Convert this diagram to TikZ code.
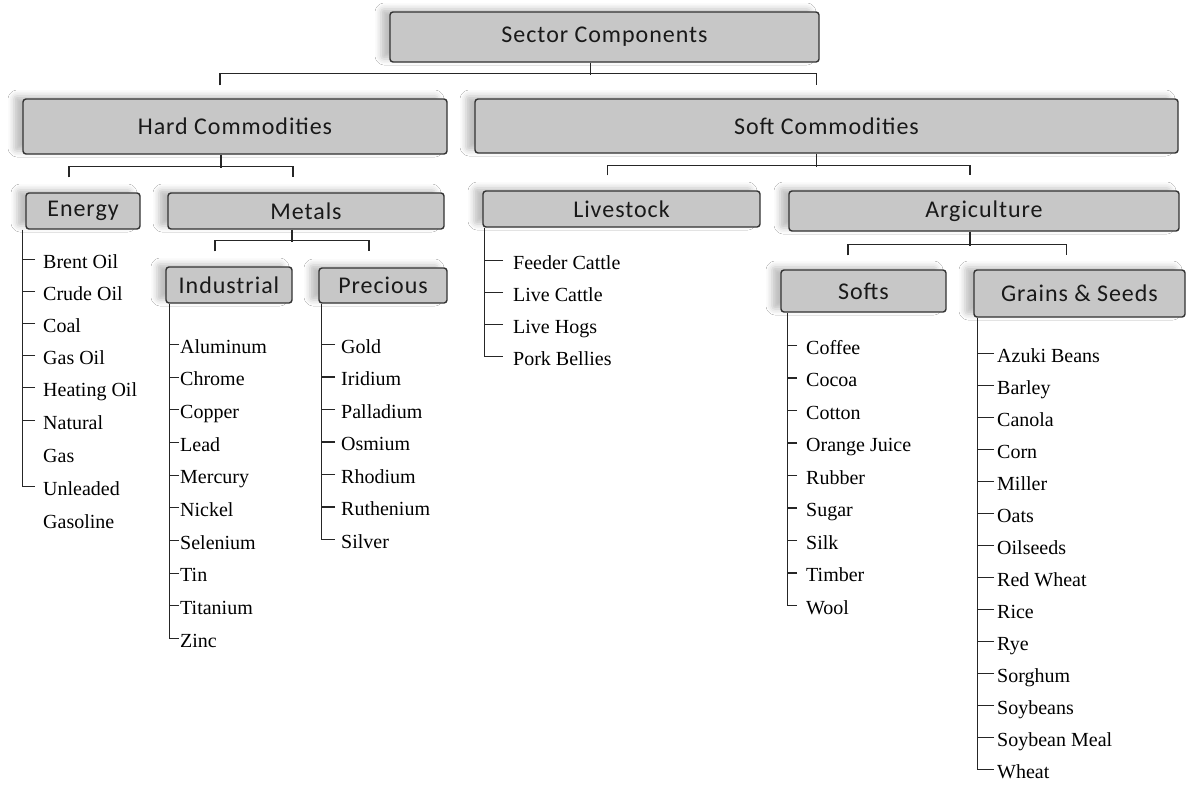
\documentclass[tikz,border=0pt]{standalone}
\usepackage{fontspec}
\setmainfont{Liberation Serif}
\newfontfamily\boxfont[LetterSpace=4]{Carlito}
\usetikzlibrary{positioning,calc,shadows.blur}
\tikzstyle{box}=[draw=black!80,fill=black!22,rounded corners=3pt,line width=1.4pt,inner sep=0pt,
  font=\boxfont\fontsize{24}{28}\selectfont,text=black!90,
  blur shadow={shadow xshift=-9pt,shadow yshift=3pt,shadow blur radius=6pt,shadow opacity=25}]
\tikzstyle{leaf}=[anchor=base west,yshift=-7pt,inner sep=0pt,align=left,font=\fontsize{20}{33}\selectfont]
\tikzstyle{link}=[line width=1.5pt,black!85]
\tikzstyle{list}=[line width=1.2pt,black!85]

\begin{document}
\begin{tikzpicture}[x=1pt,y=1pt]
\path[use as bounding box,fill=white] (0,0) rectangle (1186,-785);
% root
\node [box,minimum width=429pt,minimum height=50pt] (sec) at (604.5,-37) {Sector Components};
% hard side
\node [box,minimum width=424pt,minimum height=55pt] (hard) at (235,-126.5) {Hard Commodities};
\node [box,minimum width=114pt,minimum height=36pt] (energy) at (83,-211) {Energy};
\node [box,minimum width=276pt,minimum height=36pt] (metals) at (306,-211) {Metals};
\node [box,minimum width=126pt,minimum height=36pt] (ind) at (229,-285) {Industrial};
\node [box,minimum width=128pt,minimum height=35pt] (prec) at (383,-285.5) {Precious};
% soft side
\node [box,minimum width=703pt,minimum height=54pt] (soft) at (826.5,-126) {Soft Commodities};
\node [box,minimum width=277pt,minimum height=36pt] (live) at (621.5,-209) {Livestock};
\node [box,minimum width=390pt,minimum height=40pt] (agri) at (984,-211) {Argiculture};
\node [box,minimum width=165pt,minimum height=42pt] (softs) at (863.5,-291) {Softs};
\node [box,minimum width=211pt,minimum height=47pt] (grains) at (1079.5,-293.5) {Grains \& Seeds};

% brackets
\draw [link] ([xshift=-14pt]sec.south) -- ++(0,-12);
\draw [link] ($(hard.north)+(-15,13)$) |- ($(soft.north)+(-10,25)$) -- ++(0,-12);
\draw [link] ([xshift=-14pt]hard.south) -- ++(0,-13);
\draw [link] ($(energy.north)+(-14,15)$) |- ($(metals.north)+(-13,26)$) -- ++(0,-11);
\draw [link] ([xshift=-14pt]metals.south) -- ++(0,-12);
\draw [link] ($(ind.north)+(-14,15)$) |- ($(prec.north)+(-14,27)$) -- ++(0,-11);
\draw [link] ([xshift=-10pt]soft.south) -- ++(0,-13);
\draw [link] ($(live.north)+(-14,15)$) |- ($(agri.north)+(-14,25)$) -- ++(0,-10);
\draw [link] ([xshift=-14pt]agri.south) -- ++(0,-14);
\draw [link] ($(softs.north)+(-15.5,14)$) |- ($(grains.north)+(-13,25)$) -- ++(0,-11);

% energy
\node [leaf] (e1) at (43,-261) {Brent Oil};
\node [leaf] (e2) at (43,-293) {Crude Oil};
\node [leaf] (e3) at (43,-325) {Coal};
\node [leaf] (e4) at (43,-357) {Gas Oil};
\node [leaf] (e5) at (43,-389) {Heating Oil};
\node [leaf] (e6) at (43,-455) {Natural\\Gas};
\node [leaf] (e7) at (43,-521) {Unleaded\\Gasoline};
\draw [list] ([xshift=-3pt]energy.south west) |- ([xshift=-8pt,yshift=41.5pt]e7.base west);
\draw [list] ([xshift=-8pt,yshift=8.5pt]e1.base west) -- ++(-12,0)
  ([xshift=-8pt,yshift=8.5pt]e2.base west) -- ++(-12,0)
  ([xshift=-8pt,yshift=8.5pt]e3.base west) -- ++(-12,0)
  ([xshift=-8pt,yshift=8.5pt]e4.base west) -- ++(-12,0)
  ([xshift=-8pt,yshift=8.5pt]e5.base west) -- ++(-12,0)
  ([xshift=-8pt,yshift=41.5pt]e6.base west) -- ++(-12,0);

% industrial
\node [leaf] (i1) at (180,-346) {Aluminum};
\node [leaf] (i2) at (180,-378.7) {Chrome};
\node [leaf] (i3) at (180,-411.3) {Copper};
\node [leaf] (i4) at (180,-444) {Lead};
\node [leaf] (i5) at (180,-476.7) {Mercury};
\node [leaf] (i6) at (180,-509.3) {Nickel};
\node [leaf] (i7) at (180,-542) {Selenium};
\node [leaf] (i8) at (180,-574.7) {Tin};
\node [leaf] (i9) at (180,-607.3) {Titanium};
\node [leaf] (i10) at (180,-640) {Zinc};
\draw [list] ([xshift=4pt]ind.south west) |- ([xshift=-1pt,yshift=8.5pt]i10.base west);
\draw [list] ([xshift=-1pt,yshift=8.5pt]i1.base west) -- ++(-9,0)
  ([xshift=-1pt,yshift=8.5pt]i2.base west) -- ++(-9,0)
  ([xshift=-1pt,yshift=8.5pt]i3.base west) -- ++(-9,0)
  ([xshift=-1pt,yshift=8.5pt]i4.base west) -- ++(-9,0)
  ([xshift=-1pt,yshift=8.5pt]i5.base west) -- ++(-9,0)
  ([xshift=-1pt,yshift=8.5pt]i6.base west) -- ++(-9,0)
  ([xshift=-1pt,yshift=8.5pt]i7.base west) -- ++(-9,0)
  ([xshift=-1pt,yshift=8.5pt]i8.base west) -- ++(-9,0)
  ([xshift=-1pt,yshift=8.5pt]i9.base west) -- ++(-9,0);

% precious
\node [leaf] (p1) at (341,-346) {Gold};
\node [leaf] (p2) at (341,-378.5) {Iridium};
\node [leaf] (p3) at (341,-411) {Palladium};
\node [leaf] (p4) at (341,-443.5) {Osmium};
\node [leaf] (p5) at (341,-476) {Rhodium};
\node [leaf] (p6) at (341,-508.5) {Ruthenium};
\node [leaf] (p7) at (341,-541) {Silver};
\draw [list] ([xshift=3pt]prec.south west) |- ([xshift=-6pt,yshift=8.5pt]p7.base west);
\draw [list] ([xshift=-6pt,yshift=8.5pt]p1.base west) -- ++(-13,0)
  ([xshift=-6pt,yshift=8.5pt]p2.base west) -- ++(-13,0)
  ([xshift=-6pt,yshift=8.5pt]p3.base west) -- ++(-13,0)
  ([xshift=-6pt,yshift=8.5pt]p4.base west) -- ++(-13,0)
  ([xshift=-6pt,yshift=8.5pt]p5.base west) -- ++(-13,0)
  ([xshift=-6pt,yshift=8.5pt]p6.base west) -- ++(-13,0);

% livestock
\node [leaf] (l1) at (513,-262) {Feeder Cattle};
\node [leaf] (l2) at (513,-294) {Live Cattle};
\node [leaf] (l3) at (513,-326) {Live Hogs};
\node [leaf] (l4) at (513,-358) {Pork Bellies};
\draw [list] ([xshift=2pt]live.south west) |- ([xshift=-10pt,yshift=8.5pt]l4.base west);
\draw [list] ([xshift=-10pt,yshift=8.5pt]l1.base west) -- ++(-18,0)
  ([xshift=-10pt,yshift=8.5pt]l2.base west) -- ++(-18,0)
  ([xshift=-10pt,yshift=8.5pt]l3.base west) -- ++(-18,0);

% softs
\node [leaf] (s1) at (806,-347) {Coffee};
\node [leaf] (s2) at (806,-379.5) {Cocoa};
\node [leaf] (s3) at (806,-412) {Cotton};
\node [leaf] (s4) at (806,-444.5) {Orange Juice};
\node [leaf] (s5) at (806,-477) {Rubber};
\node [leaf] (s6) at (806,-509.5) {Sugar};
\node [leaf] (s7) at (806,-542) {Silk};
\node [leaf] (s8) at (806,-574.5) {Timber};
\node [leaf] (s9) at (806,-607) {Wool};
\draw [list] ([xshift=7pt]softs.south west) |- ([xshift=-9pt,yshift=8.5pt]s9.base west);
\draw [list] ([xshift=-9pt,yshift=8.5pt]s1.base west) -- ++(-9,0)
  ([xshift=-9pt,yshift=8.5pt]s2.base west) -- ++(-9,0)
  ([xshift=-9pt,yshift=8.5pt]s3.base west) -- ++(-9,0)
  ([xshift=-9pt,yshift=8.5pt]s4.base west) -- ++(-9,0)
  ([xshift=-9pt,yshift=8.5pt]s5.base west) -- ++(-9,0)
  ([xshift=-9pt,yshift=8.5pt]s6.base west) -- ++(-9,0)
  ([xshift=-9pt,yshift=8.5pt]s7.base west) -- ++(-9,0)
  ([xshift=-9pt,yshift=8.5pt]s8.base west) -- ++(-9,0);

% grains
\node [leaf] (g1) at (997,-355) {Azuki Beans};
\node [leaf] (g2) at (997,-387) {Barley};
\node [leaf] (g3) at (997,-419) {Canola};
\node [leaf] (g4) at (997,-451) {Corn};
\node [leaf] (g5) at (997,-483) {Miller};
\node [leaf] (g6) at (997,-515) {Oats};
\node [leaf] (g7) at (997,-547) {Oilseeds};
\node [leaf] (g8) at (997,-579) {Red Wheat};
\node [leaf] (g9) at (997,-611) {Rice};
\node [leaf] (g10) at (997,-643) {Rye};
\node [leaf] (g11) at (997,-675) {Sorghum};
\node [leaf] (g12) at (997,-707) {Soybeans};
\node [leaf] (g13) at (997,-739) {Soybean Meal};
\node [leaf] (g14) at (997,-771) {Wheat};
\draw [list] ([xshift=4pt]grains.south west) |- ([xshift=-3pt,yshift=8.5pt]g14.base west);
\draw [list] ([xshift=-3pt,yshift=8.5pt]g1.base west) -- ++(-16,0)
  ([xshift=-3pt,yshift=8.5pt]g2.base west) -- ++(-16,0)
  ([xshift=-3pt,yshift=8.5pt]g3.base west) -- ++(-16,0)
  ([xshift=-3pt,yshift=8.5pt]g4.base west) -- ++(-16,0)
  ([xshift=-3pt,yshift=8.5pt]g5.base west) -- ++(-16,0)
  ([xshift=-3pt,yshift=8.5pt]g6.base west) -- ++(-16,0)
  ([xshift=-3pt,yshift=8.5pt]g7.base west) -- ++(-16,0)
  ([xshift=-3pt,yshift=8.5pt]g8.base west) -- ++(-16,0)
  ([xshift=-3pt,yshift=8.5pt]g9.base west) -- ++(-16,0)
  ([xshift=-3pt,yshift=8.5pt]g10.base west) -- ++(-16,0)
  ([xshift=-3pt,yshift=8.5pt]g11.base west) -- ++(-16,0)
  ([xshift=-3pt,yshift=8.5pt]g12.base west) -- ++(-16,0)
  ([xshift=-3pt,yshift=8.5pt]g13.base west) -- ++(-16,0);
\end{tikzpicture}
\end{document}
